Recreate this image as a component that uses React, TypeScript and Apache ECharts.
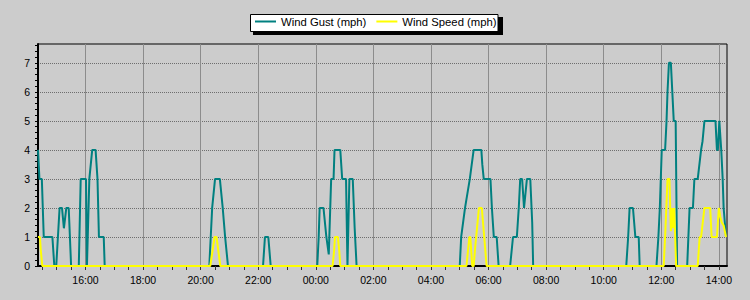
import React, { useEffect, useRef } from "react";
import * as echarts from "echarts";

// ---- data ----
const gustTimes = [
  "14:21", "14:24", "14:29", "14:33", "14:51", "14:55", "14:59", "15:06", "15:11", "15:15",
  "15:20", "15:25", "15:30", "15:46", "15:50", "16:01", "16:03", "16:08", "16:14", "16:21",
  "16:23", "16:25", "16:28", "16:38", "16:40",
  "20:18", "20:24", "20:30", "20:40", "20:46", "20:51", "20:57",
  "22:10", "22:14", "22:21", "22:26",
  "00:03", "00:06", "00:08", "00:16", "00:22", "00:27", "00:32", "00:37", "00:39", "00:51",
  "00:55", "01:03", "01:06", "01:10", "01:17", "01:21", "01:25",
  "05:00", "05:03", "05:11", "05:21", "05:29", "05:45", "05:47", "05:50", "06:04", "06:07",
  "06:11", "06:17", "06:21",
  "06:45", "06:51", "06:59", "07:03", "07:06", "07:10", "07:14", "07:20", "07:27", "07:31", "07:33",
  "10:47", "10:51", "10:54", "11:01", "11:06", "11:13", "11:15",
  "11:50", "11:54", "11:57", "11:59", "12:01", "12:08", "12:11", "12:13", "12:16", "12:20",
  "12:23", "12:26", "12:30", "12:33",
  "12:54", "12:59", "13:06", "13:09", "13:16", "13:23", "13:26", "13:30", "13:53", "13:56",
  "13:58", "14:01", "14:05", "14:08", "14:10", "14:15",
];
const gustValues = [
  4, 3, 3, 1, 1, 0, 0, 2, 2, 1.3,
  2, 2, 0, 0, 3, 3, 0, 3, 4, 4,
  3.5, 3, 1, 1, 0,
  0, 2, 3, 3, 2, 1, 0,
  0, 1, 1, 0,
  0, 1, 2, 2, 1, 0.4, 3, 3, 4, 4,
  3, 3, 0, 3, 3, 1.3, 0,
  0, 1, 2, 3, 4, 4, 3.5, 3, 3, 2,
  1, 1, 0,
  0, 1, 1, 2, 3, 3, 2, 3, 3, 1.5, 0,
  0, 1, 2, 2, 1, 1, 0,
  0, 1, 2, 3, 4, 4, 5, 6, 7, 7,
  6, 5, 5, 0,
  0, 2, 2, 3, 3, 4, 4.3, 5, 5, 4,
  4, 5, 4, 3, 2, 1,
];
const speedTimes = [
  "14:21", "14:25", "14:27", "14:30",
  "20:20", "20:29", "20:33", "20:41",
  "00:35", "00:38", "00:40", "00:46", "00:49", "00:51",
  "05:14", "05:20", "05:22", "05:26", "05:29", "05:33", "05:40", "05:46", "05:51", "05:56",
  "12:05", "12:08", "12:11", "12:13", "12:17", "12:20", "12:23", "12:24", "12:27", "12:28", "12:31",
  "13:16", "13:20", "13:23", "13:30", "13:42", "13:45", "13:56", "14:00", "14:03", "14:06", "14:10", "14:15",
];
const speedValues = [
  1, 1, 0.5, 0,
  0, 1, 1, 0,
  0, 0.5, 1, 1, 0.5, 0,
  0, 1, 1, 0, 0, 0.8, 2, 2, 1, 0,
  0, 1, 2.2, 3, 3, 1.2, 2, 1.3, 2, 2, 0,
  0, 1, 1, 2, 2, 1, 1, 2, 1.7, 1.5, 1.4, 1,
];
const xRange = ["14:21", "14:17"];
const xTickLabels = [
  "16:00", "18:00", "20:00", "22:00", "00:00", "02:00", "04:00", "06:00",
  "08:00", "10:00", "12:00", "14:00",
];
const yTickLabels = [0, 1, 2, 3, 4, 5, 6, 7];
const yMax = 7.65;

// times are in order; a smaller clock time means the next day
function toMinutes(list: string[]): number[] {
  let offset = 0;
  let prev = -Infinity;
  return list.map((s) => {
    const [h, m] = s.split(":").map(Number);
    let v = h * 60 + m + offset;
    if (v < prev) {
      offset += 1440;
      v += 1440;
    }
    prev = v;
    return v;
  });
}

function fmt(v: number): string {
  const m = ((Math.round(v) % 1440) + 1440) % 1440;
  const hh = Math.floor(m / 60);
  const mm = m % 60;
  return (hh < 10 ? "0" : "") + hh + ":" + (mm < 10 ? "0" : "") + mm;
}

const FONT = "'Liberation Sans', Arial, sans-serif";

export default function App() {
  const ref = useRef<HTMLDivElement>(null);
  useEffect(() => {
    if (!ref.current) return;
    const chart = echarts.init(ref.current, undefined, { renderer: "svg" });
    const [xMin, xMax] = toMinutes(xRange);
    const majorX = toMinutes(xTickLabels);
    const minorX: number[] = [];
    for (let t = Math.ceil(xMin / 30) * 30; t <= xMax; t += 30) minorX.push(t);
    const minorY: number[] = [];
    for (let i = 0; i * 0.2 <= yMax + 1e-9; i++) minorY.push(Math.round(i * 0.2 * 10) / 10);

    const gT = toMinutes(gustTimes);
    const sT = toMinutes(speedTimes);
    const gust = gT.map((t, i) => [t, gustValues[i]]);
    const speed = sT.map((t, i) => [t, speedValues[i]]);

    chart.setOption({
      animation: false,
      backgroundColor: "#cccccc",
      textStyle: { fontFamily: FONT },
      grid: {
        left: 38,
        right: 23,
        top: 44,
        bottom: 34,
        show: true,
        borderColor: "#000",
        borderWidth: 1,
        backgroundColor: "transparent",
      },
      graphic: [
        { type: "rect", z: 0, shape: { x: 253, y: 17, width: 250, height: 18 }, style: { fill: "#000" } },
        {
          type: "rect",
          z: 1,
          shape: { x: 250.5, y: 14.5, width: 247.5, height: 17 },
          style: { fill: "#fff", stroke: "#000", lineWidth: 1 },
        },
      ],
      legend: {
        left: 255,
        top: 16,
        padding: 0,
        z: 10,
        itemGap: 10,
        itemWidth: 21,
        itemHeight: 2,
        icon: "rect",
        textStyle: { fontFamily: FONT, fontSize: 11.3, color: "#000", padding: [0, 0, 0, 0] },
        data: ["Wind Gust (mph)", "Wind Speed (mph)"],
      },
      xAxis: [
        {
          type: "value",
          min: xMin,
          max: xMax,
          interval: 120,
          position: "bottom",
          axisLine: { show: true, onZero: false, lineStyle: { color: "#000", width: 2 } },
          axisTick: { show: true, customValues: majorX, length: 4, lineStyle: { color: "#333" } },
          axisLabel: {
            customValues: majorX,
            formatter: fmt,
            color: "#000",
            fontSize: 10.5,
            fontFamily: FONT,
            margin: 8,
          },
          splitLine: { show: true, lineStyle: { color: "#8c8c8c", width: 1 } },
        },
        {
          type: "value",
          min: xMin,
          max: xMax,
          position: "bottom",
          axisLine: { show: false, onZero: false },
          axisTick: { show: true, customValues: minorX, length: 4, lineStyle: { color: "#333" } },
          axisLabel: { show: false },
          splitLine: { show: false },
        },
      ],
      yAxis: [
        {
          type: "value",
          min: 0,
          max: yMax,
          interval: 1,
          position: "left",
          axisLine: { show: true, onZero: false, lineStyle: { color: "#000", width: 2 } },
          axisTick: { show: true, customValues: yTickLabels, length: 3, lineStyle: { color: "#000" } },
          axisLabel: {
            customValues: yTickLabels,
            color: "#000",
            fontSize: 10.5,
            fontFamily: FONT,
            margin: 8,
          },
          splitLine: { show: true, lineStyle: { color: "#6e6e6e", width: 1, type: [1, 1] } },
        },
        {
          type: "value",
          min: 0,
          max: yMax,
          position: "left",
          axisLine: { show: false, onZero: false },
          axisTick: { show: true, customValues: minorY, length: 3, lineStyle: { color: "#000" } },
          axisLabel: { show: false },
          splitLine: { show: false },
        },
      ],
      series: [
        {
          name: "Wind Gust (mph)",
          type: "line",
          xAxisIndex: 0,
          yAxisIndex: 0,
          data: gust,
          symbol: "none",
          showSymbol: false,
          lineStyle: { color: "#008080", width: 2 },
          itemStyle: { color: "#008080" },
        },
        {
          name: "Wind Speed (mph)",
          type: "line",
          xAxisIndex: 0,
          yAxisIndex: 0,
          data: speed,
          symbol: "none",
          showSymbol: false,
          lineStyle: { color: "#ffff00", width: 2 },
          itemStyle: { color: "#ffff00" },
        },
      ],
    });
    return () => chart.dispose();
  }, []);
  return (
    <div
      ref={ref}
      style={{ position: "fixed", left: 0, top: 0, width: 750, height: 300 }}
    />
  );
}
